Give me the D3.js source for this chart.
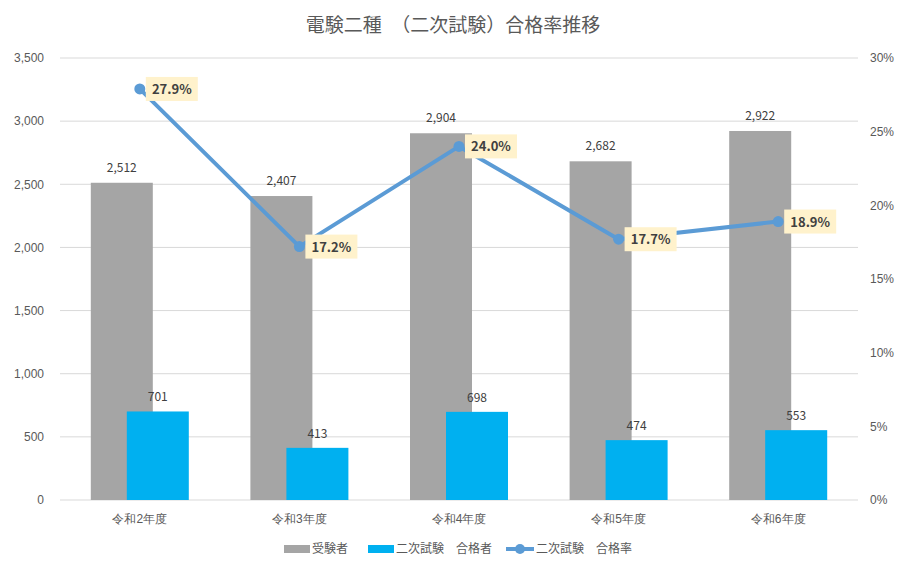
<!DOCTYPE html>
<html><head><meta charset="utf-8">
<script src="https://cdn.jsdelivr.net/npm/d3@7"></script>
<style>body{margin:0;background:#fff;}svg{font-family:"Noto Sans CJK JP","Noto Sans",sans-serif;}</style>
</head><body><svg id="c" width="907" height="568"></svg>
<script>
const categories = ["令和2年度","令和3年度","令和4年度","令和5年度","令和6年度"];
const examinees = [2512, 2407, 2904, 2682, 2922];
const passers = [701, 413, 698, 474, 553];
const passRate = [27.9, 17.2, 24.0, 17.7, 18.9];
const leftTicks = [0,500,1000,1500,2000,2500,3000,3500];
const rightTicks = [0,5,10,15,20,25,30];
const seriesNames = ["受験者","二次試験　合格者","二次試験　合格率"];
const title = "電験二種　（二次試験）合格率推移";

const svg = d3.select("#c");
const L = 60, R = 858, T = 58, B = 500;
const x = d3.scaleBand().domain(categories).range([L, R]);
const y = d3.scaleLinear().domain([0, 3500]).range([B, T]);
const y2 = d3.scaleLinear().domain([0, 30]).range([B, T]);
const txt = "#595959";

svg.append("text").attr("x", 453).attr("y", 32).attr("text-anchor","middle")
  .attr("font-size", 19).attr("fill", txt).text(title);

// grid
svg.append("g").selectAll("line").data(leftTicks).join("line")
  .attr("x1", L).attr("x2", R).attr("y1", d=>y(d)).attr("y2", d=>y(d))
  .attr("stroke", "#d9d9d9").attr("stroke-width", 1);

// left axis
const la = svg.append("g").attr("transform", `translate(${L},0)`)
  .call(d3.axisLeft(y).tickValues(leftTicks).tickFormat(d3.format(",")).tickSize(0).tickPadding(16));
la.select(".domain").remove();
la.selectAll("text").attr("fill", txt).attr("font-size", 12).attr("font-family","inherit");

// right axis
const ra = svg.append("g").attr("transform", `translate(${R},0)`)
  .call(d3.axisRight(y2).tickValues(rightTicks).tickFormat(d=>d+"%").tickSize(0).tickPadding(12));
ra.select(".domain").remove();
ra.selectAll("text").attr("fill", txt).attr("font-size", 12).attr("font-family","inherit");

// x axis
const xa = svg.append("g").attr("transform", `translate(0,${B})`)
  .call(d3.axisBottom(x).tickSize(0).tickPadding(14));
xa.select(".domain").remove();
xa.selectAll("text").attr("fill", txt).attr("font-size", 12).attr("font-family","inherit");

const bw = 62, off = 18;
const cx = c => x(c) + x.bandwidth()/2;

svg.append("g").selectAll("rect").data(examinees).join("rect")
  .attr("x", (d,i)=>cx(categories[i]) - off - bw/2).attr("width", bw)
  .attr("y", d=>y(d)).attr("height", d=>B - y(d)).attr("fill", "#a5a5a5");
svg.append("g").selectAll("text").data(examinees).join("text")
  .attr("x", (d,i)=>cx(categories[i]) - off).attr("y", d=>y(d) - 11)
  .attr("text-anchor","middle").attr("font-size", 12).attr("fill", "#404040")
  .text(d=>d3.format(",")(d));

svg.append("g").selectAll("rect").data(passers).join("rect")
  .attr("x", (d,i)=>cx(categories[i]) + off - bw/2).attr("width", bw)
  .attr("y", d=>y(d)).attr("height", d=>B - y(d)).attr("fill", "#00b0f0");
svg.append("g").selectAll("text").data(passers).join("text")
  .attr("x", (d,i)=>cx(categories[i]) + off).attr("y", d=>y(d) - 10)
  .attr("text-anchor","middle").attr("font-size", 12).attr("fill", "#404040")
  .text(d=>d);

// line
const line = d3.line().x((d,i)=>cx(categories[i])).y(d=>y2(d));
svg.append("path").datum(passRate).attr("d", line).attr("fill","none")
  .attr("stroke", "#5b9bd5").attr("stroke-width", 4).attr("stroke-linejoin","round");
svg.append("g").selectAll("circle").data(passRate).join("circle")
  .attr("cx", (d,i)=>cx(categories[i])).attr("cy", d=>y2(d)).attr("r", 5.5).attr("fill", "#5b9bd5");

const lg = svg.append("g").selectAll("g").data(passRate).join("g")
  .attr("transform", (d,i)=>`translate(${cx(categories[i]) + 6},${y2(d)})`);
lg.append("rect").attr("x", 0).attr("y", -12).attr("width", 52).attr("height", 24).attr("fill", "#fff2cc");
lg.append("text").attr("x", 26).attr("y", 5).attr("text-anchor","middle")
  .attr("font-size", 13).attr("font-weight","bold").attr("fill", "#404040")
  .text(d=>d.toFixed(1)+"%");

// legend
const leg = svg.append("g");
const ly = 549;
leg.append("rect").attr("x", 284).attr("y", ly-4).attr("width", 26).attr("height", 8).attr("fill", "#a5a5a5");
leg.append("text").attr("x", 312).attr("y", ly+4).attr("font-size", 12).attr("fill", txt).text(seriesNames[0]);
leg.append("rect").attr("x", 368).attr("y", ly-4).attr("width", 26).attr("height", 8).attr("fill", "#00b0f0");
leg.append("text").attr("x", 396).attr("y", ly+4).attr("font-size", 12).attr("fill", txt).text(seriesNames[1]);
leg.append("line").attr("x1", 506).attr("x2", 534).attr("y1", ly).attr("y2", ly).attr("stroke", "#5b9bd5").attr("stroke-width", 4);
leg.append("circle").attr("cx", 520).attr("cy", ly).attr("r", 5).attr("fill", "#5b9bd5");
leg.append("text").attr("x", 536).attr("y", ly+4).attr("font-size", 12).attr("fill", txt).text(seriesNames[2]);
</script></body></html>
